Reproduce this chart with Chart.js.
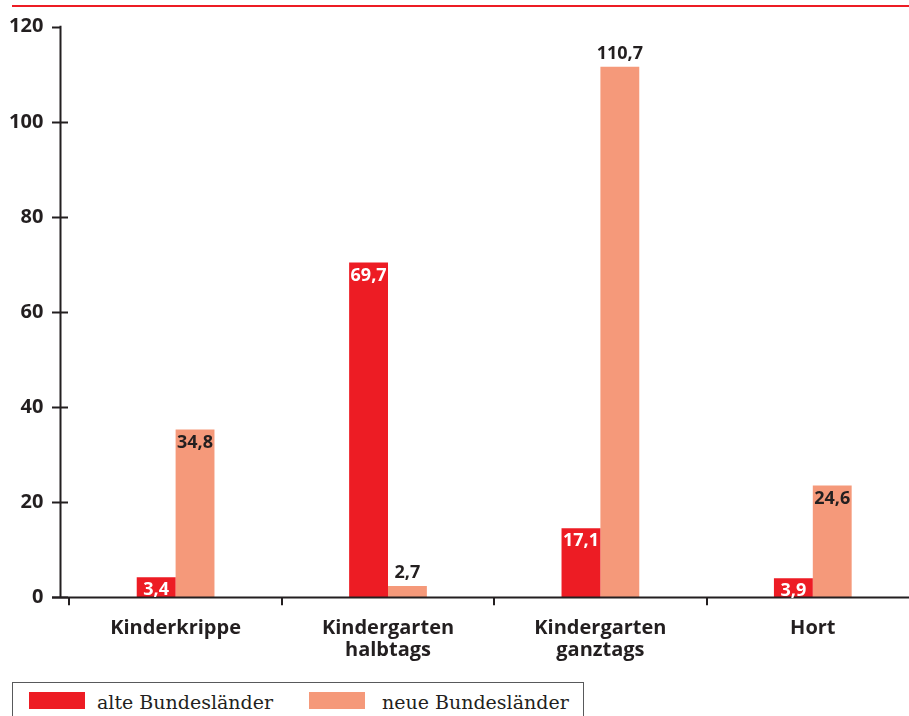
<!DOCTYPE html>
<html lang="de">
<head>
<meta charset="utf-8">
<title>Kinderbetreuung alte / neue Bundesländer</title>
<script src="https://cdn.jsdelivr.net/npm/chart.js@4/dist/chart.umd.min.js"></script>
<style>
    html, body { margin: 0; padding: 0; background: #fff; overflow: hidden; }
    #topline { position: absolute; left: 12px; right: 0; top: 5px; height: 2px; background: #ed1c24; }
    #wrap { position: absolute; left: 0; top: 0; width: 920px; height: 680px; }
    #legend {
        position: absolute; left: 12px; top: 682px; width: 572px; height: 60px;
        border: 1px solid #58595b; box-sizing: border-box;
        font-family: "DejaVu Serif", serif; font-size: 19px; color: #231f20;
    }
    .item { position: absolute; top: 9px; display: flex; align-items: flex-end; }
    .swatch { width: 56px; height: 17px; display: inline-block; }
    .item span.txt { line-height: 17px; position: relative; top: 2px; }
</style>
</head>
<body>
<div id="topline"></div>
<div id="wrap"><canvas id="chart" width="920" height="680"></canvas></div>
<div id="legend"></div>

<script>
// Kategorien (x-Achse), mehrzeilig wie im Original
const kategorien = [
    ['Kinderkrippe'],
    ['Kindergarten', 'halbtags'],
    ['Kindergarten', 'ganztags'],
    ['Hort']
];

// Balkenhöhen, so wie sie im Bild gezeichnet sind
const alteWerte = [4.2, 70.4, 14.5, 4.0];
const neueWerte = [35.3, 2.4, 111.6, 23.5];

// aufgedruckte Zahlen
const alteBeschriftung = ['3,4', '69,7', '17,1', '3,9'];
const neueBeschriftung = ['34,8', '2,7', '110,7', '24,6'];

// Y-Achse
const yTicks = [0, 20, 40, 60, 80, 100, 120];

const ROT = '#ed1c24';
const LACHS = '#f5997a';
const DUNKEL = '#231f20';
const SCHRIFT = '"Open Sans", sans-serif';

// Achsenlinien und Zahlen auf den Balken
const achsenPlugin = {
    id: 'achsen',
    afterDatasetsDraw(chart) {
        const ctx = chart.ctx;
        const y = chart.scales.y;
        const yAxisX = 60.5;
        const yMax = yTicks[yTicks.length - 1];

        ctx.save();
        ctx.strokeStyle = DUNKEL;
        ctx.lineWidth = 2;

        // senkrechte Achse
        ctx.beginPath();
        ctx.moveTo(yAxisX, y.getPixelForValue(yMax) - 1);
        ctx.lineTo(yAxisX, y.getPixelForValue(0));
        ctx.stroke();

        // Teilstriche
        yTicks.forEach(v => {
            const py = Math.round(y.getPixelForValue(v)) + 0.5;
            ctx.beginPath();
            ctx.moveTo(52, py);
            ctx.lineTo(v === yMax ? 61 : 68, py);
            ctx.stroke();
        });

        // waagrechte Achse
        const y0 = Math.round(y.getPixelForValue(0)) + 0.5;
        ctx.beginPath();
        ctx.moveTo(52, y0);
        ctx.lineTo(chart.width, y0);
        ctx.stroke();

        // Werte
        ctx.font = 'bold 18px ' + SCHRIFT;
        ctx.textAlign = 'center';
        ctx.textBaseline = 'middle';
        chart.data.datasets.forEach((ds, di) => {
            const meta = chart.getDatasetMeta(di);
            meta.data.forEach((bar, i) => {
                const aussen = ds.aussen[i];
                ctx.fillStyle = aussen ? DUNKEL : ds.textFarbe;
                const ty = aussen ? bar.y - 13 : bar.y + 13;
                ctx.fillText(ds.beschriftung[i], bar.x, ty);
            });
        });
        ctx.restore();
    }
};

const datasets = [
    {
        label: 'alte Bundesländer',
        data: alteWerte,
        beschriftung: alteBeschriftung,
        aussen: [false, false, false, false],
        textFarbe: '#ffffff',
        backgroundColor: ROT
    },
    {
        label: 'neue Bundesländer',
        data: neueWerte,
        beschriftung: neueBeschriftung,
        aussen: [false, true, true, false],
        textFarbe: DUNKEL,
        backgroundColor: LACHS
    }
];

new Chart(document.getElementById('chart'), {
    type: 'bar',
    data: { labels: kategorien, datasets: datasets },
    plugins: [achsenPlugin],
    options: {
        responsive: false,
        animation: false,
        layout: { padding: { top: 26.7, right: 1, bottom: 0, left: 0 } },
        plugins: { legend: { display: false }, tooltip: { enabled: false } },
        datasets: { bar: { categoryPercentage: 0.366, barPercentage: 1.0, borderWidth: 0 } },
        scales: {
            x: {
                offset: true,
                border: { display: false },
                grid: {
                    offset: true,
                    drawOnChartArea: false,
                    drawTicks: true,
                    tickLength: 8,
                    lineWidth: 2,
                    color: DUNKEL
                },
                ticks: {
                    padding: 12,
                    color: DUNKEL,
                    maxRotation: 0,
                    autoSkip: false,
                    font: { family: SCHRIFT, size: 20, weight: 'bold', lineHeight: 1.1 }
                },
                afterFit: s => { s.height = 82.7; }
            },
            y: {
                min: 0,
                max: 120,
                border: { display: false },
                // Teilstriche zeichnet das Plugin; tickLength schiebt nur die Zahlen nach links
                grid: { display: false, drawTicks: true, tickLength: 26 },
                afterBuildTicks: s => { s.ticks = yTicks.map(v => ({ value: v })); },
                ticks: {
                    padding: 0,
                    color: DUNKEL,
                    font: { family: SCHRIFT, size: 20, weight: 'bold' }
                },
                afterFit: s => { s.width = 69.4; }
            }
        }
    }
});

// Legende als HTML, aus den Datensätzen gebaut
const legende = document.getElementById('legend');
const legendX = [16, 296];
const legendAbstand = [12, 17];
datasets.forEach((ds, i) => {
    const item = document.createElement('div');
    item.className = 'item';
    item.style.left = legendX[i] + 'px';
    const sw = document.createElement('span');
    sw.className = 'swatch';
    sw.style.background = ds.backgroundColor;
    const txt = document.createElement('span');
    txt.className = 'txt';
    txt.style.marginLeft = legendAbstand[i] + 'px';
    txt.textContent = ds.label;
    item.appendChild(sw);
    item.appendChild(txt);
    legende.appendChild(item);
});
</script>
</body>
</html>
